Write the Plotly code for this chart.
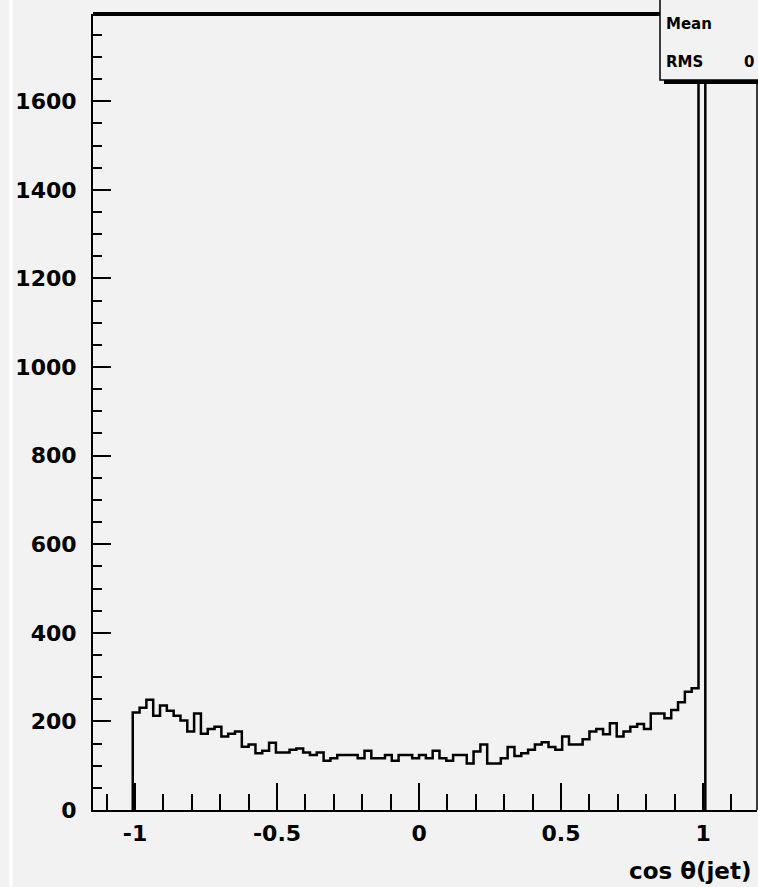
import plotly.graph_objects as go

# ---- data ----
bin_lo = -1.008          # lower edge of first filled bin
bin_width = 0.024
counts = [220, 231, 249, 213, 236, 224, 213, 202, 177, 218,
          172, 183, 188, 166, 172, 177, 143, 148, 128, 134,
          152, 130, 130, 136, 139, 130, 124, 130, 111, 117,
          124, 124, 124, 117, 134, 117, 117, 124, 111, 124,
          124, 117, 124, 117, 134, 117, 111, 124, 124, 105,
          132, 148, 105, 105, 117, 142, 122, 128, 136, 148,
          153, 142, 136, 166, 148, 148, 160, 177, 183, 171,
          196, 166, 177, 188, 194, 183, 218, 218, 207, 226,
          243, 267, 275, 1711]
x_tick_vals = [-1, -0.5, 0, 0.5, 1]
x_tick_text = ["-1", "-0.5", "0", "0.5", "1"]
y_tick_vals = [0, 200, 400, 600, 800, 1000, 1200, 1400, 1600]
y_tick_text = [str(v) for v in y_tick_vals]
x_title = "cos \u03b8(jet)"
stat_labels = ["Mean", "RMS"]

# ---- build step outline ----
edges = [bin_lo + i * bin_width for i in range(len(counts) + 1)]
xs = [edges[0]] + edges
ys = [0] + counts + [0]

BG = "#f2f2f2"
W, H = 758, 887
L, R, T, B = 93, 1, 14, 77
pw = W - L - R
ph = H - T - B


def px(xp):
    return (xp - L) / pw


def py(yp):
    return (H - B - yp) / ph


fig = go.Figure()
fig.add_trace(go.Scatter(x=xs, y=ys, mode="lines", line=dict(color="black", width=2.5, shape="hv"),
                         hoverinfo="skip", showlegend=False))

font_b = dict(family="DejaVu Sans", size=22, color="black", weight="bold")

fig.update_layout(
    width=W, height=H,
    margin=dict(l=L, r=R, t=T, b=B, pad=0),
    paper_bgcolor=BG, plot_bgcolor=BG,
    xaxis=dict(range=[-1.148, 1.19], tickmode="array", tickvals=x_tick_vals, ticktext=x_tick_text,
               ticks="inside", ticklen=27, tickwidth=2, tickcolor="black",
               minor=dict(dtick=0.1, tick0=0, ticks="inside", ticklen=16, tickwidth=2, tickcolor="black"),
               showline=True, linecolor="black", linewidth=2, showgrid=False, zeroline=False,
               tickfont=font_b, ticklabelstandoff=3),
    yaxis=dict(range=[0, 1797], tickmode="array", tickvals=y_tick_vals, ticktext=y_tick_text,
               ticks="inside", ticklen=18, tickwidth=2, tickcolor="black",
               minor=dict(dtick=50, tick0=0, ticks="inside", ticklen=9, tickwidth=2, tickcolor="black"),
               showline=True, linecolor="black", linewidth=2, showgrid=False, zeroline=False,
               tickfont=font_b, ticklabelstandoff=10),
)

shapes = [
    # white vertical stripe at far left
    dict(type="line", xref="paper", yref="paper", x0=px(11), x1=px(11), y0=py(0), y1=py(H),
         line=dict(color="white", width=3), layer="below"),
    # thick top frame
    dict(type="line", xref="paper", yref="paper", x0=0, x1=1, y0=1, y1=1,
         line=dict(color="black", width=4), layer="above"),
    # right frame
    dict(type="line", xref="paper", yref="paper", x0=1, x1=1, y0=0, y1=1,
         line=dict(color="black", width=1.5), layer="above"),
    # stats box shadow
    dict(type="rect", xref="paper", yref="paper", x0=px(664), x1=px(780), y0=py(84), y1=py(-20),
         fillcolor="black", line=dict(width=0), layer="above"),
    # stats box
    dict(type="rect", xref="paper", yref="paper", x0=px(660), x1=px(780), y0=py(80), y1=py(-20),
         fillcolor=BG, line=dict(color="black", width=1.5), layer="above"),
]
fig.update_layout(shapes=shapes)

ann_font = dict(family="DejaVu Sans", size=15, color="black", weight="bold")
fig.add_annotation(xref="paper", yref="paper", x=px(664), y=py(24), text=stat_labels[0],
                   showarrow=False, xanchor="left", yanchor="middle", font=ann_font)
fig.add_annotation(xref="paper", yref="paper", x=px(664), y=py(62), text=stat_labels[1],
                   showarrow=False, xanchor="left", yanchor="middle", font=ann_font)
fig.add_annotation(xref="paper", yref="paper", x=px(742), y=py(62), text="0",
                   showarrow=False, xanchor="left", yanchor="middle", font=ann_font)
fig.add_annotation(xref="paper", yref="paper", x=px(753), y=py(871), text=x_title,
                   showarrow=False, xanchor="right", yanchor="middle",
                   font=dict(family="DejaVu Sans", size=23, color="black", weight="bold"))

fig.write_html("out.html", config={"displayModeBar": False},
               post_script="document.body.style.margin='0';document.body.style.overflow='hidden';")
